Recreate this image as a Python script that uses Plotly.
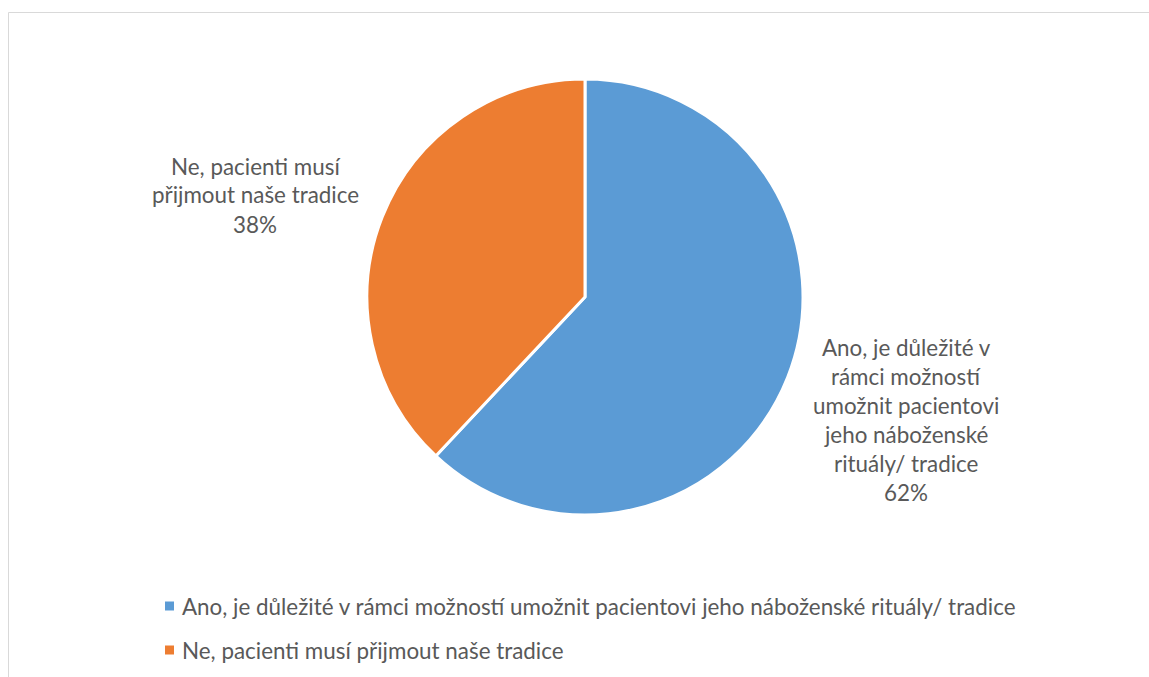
import plotly.graph_objects as go

# Survey answers and their shares (%)
labels = [
    "Ano, je důležité v rámci možností umožnit pacientovi jeho náboženské rituály/ tradice",
    "Ne, pacienti musí přijmout naše tradice",
]
values = [62, 38]
colors = ["#5B9BD5", "#ED7D31"]

# Wrapped data-label lines shown next to each slice
label_lines = [
    ["Ano, je důležité v", "rámci možností", "umožnit pacientovi", "jeho náboženské", "rituály/ tradice"],
    ["Ne, pacienti musí", "přijmout naše tradice"],
]

W, H = 1149, 677
FONT = "Lato"
TEXT_COLOR = "#595959"
FS = 22.4
LINE_H = 29


def px(x):
    return x / W


def py(y):
    return 1 - y / H


# Pie geometry in pixels
cx, cy, r = 585, 297, 218

fig = go.Figure(
    go.Pie(
        labels=labels,
        values=values,
        sort=False,
        direction="clockwise",
        rotation=0,
        marker=dict(colors=colors, line=dict(color="white", width=3)),
        textinfo="none",
        hoverinfo="label+percent",
        showlegend=False,
        domain=dict(x=[px(cx - r), px(cx + r)], y=[py(cy + r), py(cy - r)]),
    )
)

annotations = []
# Data labels: category lines followed by the percentage
label_centers = [(906, 419.5), (255, 195)]
for lines, val, (lx, ly) in zip(label_lines, values, label_centers):
    all_lines = lines + [f"{val}%"]
    n = len(all_lines)
    y0 = ly - (n - 1) * LINE_H / 2
    for i, t in enumerate(all_lines):
        annotations.append(
            dict(
                x=px(lx), y=py(y0 + i * LINE_H), xref="paper", yref="paper",
                text=t, showarrow=False, xanchor="center", yanchor="middle",
                font=dict(family=FONT, size=FS, color=TEXT_COLOR),
            )
        )

# Chart frame
shapes = [
    dict(
        type="rect", xref="paper", yref="paper",
        x0=px(8.5), x1=1.02, y0=-0.02, y1=py(12.5),
        line=dict(color="#D9D9D9", width=1), fillcolor="rgba(0,0,0,0)", layer="below",
    )
]
# Legend below the pie
legend_rows = [606, 650]
for lab, col, ry in zip(labels, colors, legend_rows):
    shapes.append(
        dict(
            type="rect", xref="paper", yref="paper",
            x0=px(165), x1=px(174), y0=py(ry + 4.5), y1=py(ry - 4.5),
            line=dict(width=0), fillcolor=col,
        )
    )
    annotations.append(
        dict(
            x=px(180), y=py(ry), xref="paper", yref="paper",
            text=lab, showarrow=False, xanchor="left", yanchor="middle",
            font=dict(family=FONT, size=FS, color=TEXT_COLOR),
        )
    )

fig.update_layout(
    width=W, height=H,
    margin=dict(l=0, r=0, t=0, b=0),
    paper_bgcolor="white", plot_bgcolor="white",
    annotations=annotations, shapes=shapes,
)

fig.write_html("out.html")
